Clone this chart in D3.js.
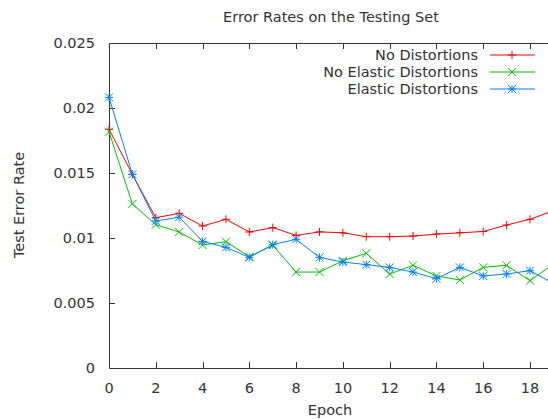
<!DOCTYPE html>
<html>
<head>
<meta charset="utf-8">
<script src="https://cdn.jsdelivr.net/npm/d3@7"></script>
<style>
  body { margin: 0; background: #fff; }
  text { font-family: "DejaVu Sans", sans-serif; fill: #333; }
</style>
</head>
<body>
<div id="chart"></div>
<script>
const epochs = [0, 1, 2, 3, 4, 5, 6, 7, 8, 9, 10, 11, 12, 13, 14, 15, 16, 17, 18, 19]
const noDistortions = [0.01836, 0.0149, 0.01156, 0.0119, 0.01092, 0.01144, 0.01046, 0.0108, 0.0102, 0.01047, 0.0104, 0.0101, 0.0101, 0.01015, 0.0103, 0.0104, 0.0105, 0.011, 0.01144, 0.0121]
const noElastic = [0.01818, 0.01262, 0.01103, 0.01046, 0.00946, 0.00972, 0.00856, 0.00944, 0.00738, 0.00738, 0.00825, 0.00882, 0.00723, 0.0079, 0.00708, 0.00677, 0.00774, 0.0079, 0.00672, 0.008]
const elastic = [0.02082, 0.0149, 0.01131, 0.0116, 0.00974, 0.00928, 0.00851, 0.00949, 0.0099, 0.00851, 0.00815, 0.00795, 0.00774, 0.00738, 0.00687, 0.00774, 0.00708, 0.00723, 0.00749, 0.0065]
const xTicks = [0, 2, 4, 6, 8, 10, 12, 14, 16, 18]
const yTicks = [0, 0.005, 0.01, 0.015, 0.02, 0.025]

const series = [
  { name: "No Distortions", values: noDistortions, color: "#ff0000", mark: "plus" },
  { name: "No Elastic Distortions", values: noElastic, color: "#00c000", mark: "cross" },
  { name: "Elastic Distortions", values: elastic, color: "#0080ff", mark: "star" }
]

const W = 548, H = 419
const LEFT = 109, TOP = 43, BOTTOM = 368

const svg = d3.select("#chart").append("svg")
  .attr("width", W)
  .attr("height", H)

// 18 lands at x=530, the plot runs off the right edge
const x = d3.scaleLinear().domain([0, 18]).range([LEFT, 530])
const y = d3.scaleLinear().domain([0, 0.025]).range([BOTTOM, TOP])

const g = svg.append("g")

// border (left, bottom, top; right side is cut off)
g.append("path")
  .attr("d", `M${W + 5},${TOP + 0.5}H${LEFT + 0.5}V${BOTTOM + 0.5}H${W + 5}`)
  .attr("fill", "none")
  .attr("stroke", "#333")
  .attr("stroke-width", 1)

// ticks, drawn inward, mirrored on top
xTicks.forEach(t => {
  const px = Math.round(x(t)) + 0.5
  if (t > 0) {
    g.append("line").attr("x1", px).attr("x2", px).attr("y1", BOTTOM).attr("y2", BOTTOM - 6).attr("stroke", "#333")
    g.append("line").attr("x1", px).attr("x2", px).attr("y1", TOP).attr("y2", TOP + 6).attr("stroke", "#333")
  }
  g.append("text").attr("x", x(t)).attr("y", 393).attr("text-anchor", "middle")
    .style("font-size", "14.5px").text(t)
})

yTicks.forEach(t => {
  const py = Math.round(y(t)) + 0.5
  if (t > 0 && t < 0.025) {
    g.append("line").attr("x1", LEFT).attr("x2", LEFT + 6).attr("y1", py).attr("y2", py).attr("stroke", "#333")
  }
  g.append("text").attr("x", 95).attr("y", y(t)).attr("dy", "0.35em").attr("text-anchor", "end")
    .style("font-size", "14.5px").text(t)
})

// lines + points
const line = d3.line().x((d, i) => x(epochs[i])).y(d => y(d))

function marker(sel, type, color, cx, cy) {
  const r = 4
  let d = ""
  if (type === "plus" || type === "star") d += `M${cx - r},${cy}H${cx + r}M${cx},${cy - r}V${cy + r}`
  if (type === "cross" || type === "star") d += `M${cx - r},${cy - r}L${cx + r},${cy + r}M${cx - r},${cy + r}L${cx + r},${cy - r}`
  sel.append("path").attr("d", d).attr("stroke", color).attr("stroke-width", 1).attr("fill", "none")
}

series.forEach(s => {
  g.append("path")
    .datum(s.values)
    .attr("d", line)
    .attr("fill", "none")
    .attr("stroke", s.color)
    .attr("stroke-width", 1)
  s.values.forEach((v, i) => marker(g, s.mark, s.color, x(epochs[i]), y(v)))
})

// legend
series.forEach((s, i) => {
  const ly = 55 + i * 17
  g.append("text").attr("x", 478).attr("y", ly).attr("dy", "0.35em").attr("text-anchor", "end")
    .style("font-size", "14.5px").text(s.name)
  g.append("line").attr("x1", 490).attr("x2", 535).attr("y1", ly).attr("y2", ly)
    .attr("stroke", s.color).attr("stroke-width", 1)
  marker(g, s.mark, s.color, 512, ly)
})

// titles
svg.append("text").attr("x", 331).attr("y", 22).attr("text-anchor", "middle")
  .style("font-size", "14.5px").text("Error Rates on the Testing Set")
svg.append("text").attr("x", 330).attr("y", 415).attr("text-anchor", "middle")
  .style("font-size", "14.5px").text("Epoch")
svg.append("text").attr("transform", "translate(24,205) rotate(-90)").attr("text-anchor", "middle")
  .style("font-size", "14.5px").text("Test Error Rate")
</script>
</body>
</html>
